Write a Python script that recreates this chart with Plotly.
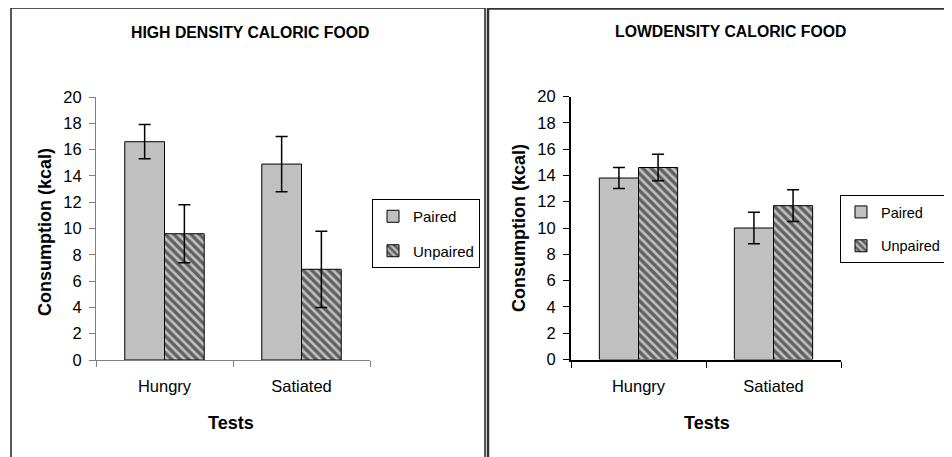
import plotly.graph_objects as go

W, H = 952, 457
OFF = 8  # default page body margin in the written html

categories = ["Hungry", "Satiated"]
series_names = ["Paired", "Unpaired"]

high_paired = [16.6, 14.9]
high_paired_err = [1.3, 2.1]
high_unpaired = [9.6, 6.9]
high_unpaired_err = [2.2, 2.9]

low_paired = [13.8, 10.0]
low_paired_err = [0.8, 1.2]
low_unpaired = [14.6, 11.7]
low_unpaired_err = [1.0, 1.2]

y_ticks = [0, 2, 4, 6, 8, 10, 12, 14, 16, 18, 20]

titles = ["HIGH DENSITY CALORIC FOOD", "LOWDENSITY CALORIC FOOD"]
y_title = "Consumption (kcal)"
x_title = "Tests"


def px(x):
    return (x - OFF) / W


def py(y):
    return 1 - (y - OFF) / H


FONT = "Arial, Liberation Sans, sans-serif"
GREY = "#c0c0c0"

fig = go.Figure()

panels = [
    (high_paired, high_paired_err, high_unpaired, high_unpaired_err, "x", "y", "legend"),
    (low_paired, low_paired_err, low_unpaired, low_unpaired_err, "x2", "y2", "legend2"),
]

for vp, ep, vu, eu, xa, ya, lg in panels:
    fig.add_trace(go.Bar(
        x=categories, y=vp, name=series_names[0], xaxis=xa, yaxis=ya, legend=lg,
        legendgroup=lg + "a",
        marker=dict(color=GREY, line=dict(color="black", width=1)),
        error_y=dict(type="data", array=ep, visible=True, color="black", thickness=1.5, width=6),
    ))
    fig.add_trace(go.Bar(
        x=categories, y=vu, name=series_names[1], xaxis=xa, yaxis=ya, legend=lg,
        legendgroup=lg + "b",
        marker=dict(color=GREY, line=dict(color="black", width=1),
                    pattern=dict(shape="\\", fgcolor="black", bgcolor=GREY, size=6, solidity=0.55)),
        error_y=dict(type="data", array=eu, visible=True, color="black", thickness=1.5, width=6),
    ))

axis_common = dict(showgrid=False, zeroline=False, ticks="outside", ticklen=6,
                   tickfont=dict(family=FONT, size=16.5, color="black"))

fig.update_layout(
    width=W, height=H,
    margin=dict(l=0, r=0, t=0, b=0, autoexpand=False),
    paper_bgcolor="white", plot_bgcolor="white",
    barmode="group", bargap=0.42, bargroupgap=0,
    font=dict(family=FONT, color="black"),
    xaxis=dict(domain=[px(96), px(370)], anchor="y", range=[-0.5, 1.5], tickson="boundaries",
               showline=True, linecolor="#808080", linewidth=1, tickcolor="#808080",
               ticklabelstandoff=11, **axis_common),
    yaxis=dict(domain=[py(360), py(97)], anchor="x", range=[0, 20], tickvals=y_ticks,
               showline=True, linecolor="#808080", linewidth=1, tickcolor="#808080",
               ticklabelstandoff=4, **axis_common),
    xaxis2=dict(domain=[px(571), px(841)], anchor="y2", range=[-0.5, 1.5], tickson="boundaries",
                showline=True, linecolor="black", linewidth=2, tickcolor="black",
                ticklabelstandoff=11, **axis_common),
    yaxis2=dict(domain=[py(359.5), py(96.5)], anchor="x2", range=[0, 20], tickvals=y_ticks,
                showline=True, linecolor="black", linewidth=2, tickcolor="black",
                ticklabelstandoff=4, **axis_common),
    legend=dict(x=px(372), y=py(199), xanchor="left", yanchor="top", xref="paper", yref="paper",
                bordercolor="black", borderwidth=1, bgcolor="white", tracegroupgap=12,
                font=dict(family=FONT, size=15, color="black")),
    legend2=dict(x=px(840), y=py(195), xanchor="left", yanchor="top", xref="paper", yref="paper",
                 bordercolor="black", borderwidth=1, bgcolor="white", tracegroupgap=12,
                 font=dict(family=FONT, size=14.5, color="black")),
    showlegend=True,
)

annotations = [
    dict(text=f"<b>{titles[0]}</b>", x=px(250), y=py(33), font=dict(size=15.8)),
    dict(text=f"<b>{titles[1]}</b>", x=px(730), y=py(32), font=dict(size=15.8)),
    dict(text=f"<b>{y_title}</b>", x=px(45), y=py(232), textangle=-90, font=dict(size=18)),
    dict(text=f"<b>{y_title}</b>", x=px(519), y=py(228), textangle=-90, font=dict(size=18)),
    dict(text=f"<b>{x_title}</b>", x=px(231), y=py(423), font=dict(size=18)),
    dict(text=f"<b>{x_title}</b>", x=px(707), y=py(423), font=dict(size=18)),
]
for a in annotations:
    a.update(xref="paper", yref="paper", xanchor="center", yanchor="middle", showarrow=False)
    a["font"].update(family=FONT, color="black")
fig.update_layout(annotations=annotations)

shapes = [
    dict(type="rect", x0=px(11), x1=px(485), y0=py(8), y1=py(480),
         line=dict(color="#222222", width=1.5)),
    dict(type="rect", x0=px(488), x1=px(1000), y0=py(8.5), y1=py(480),
         line=dict(color="#333333", width=2.5)),
]
for s in shapes:
    s.update(xref="paper", yref="paper", layer="above")
fig.update_layout(shapes=shapes)

fig.write_html("out.html")
